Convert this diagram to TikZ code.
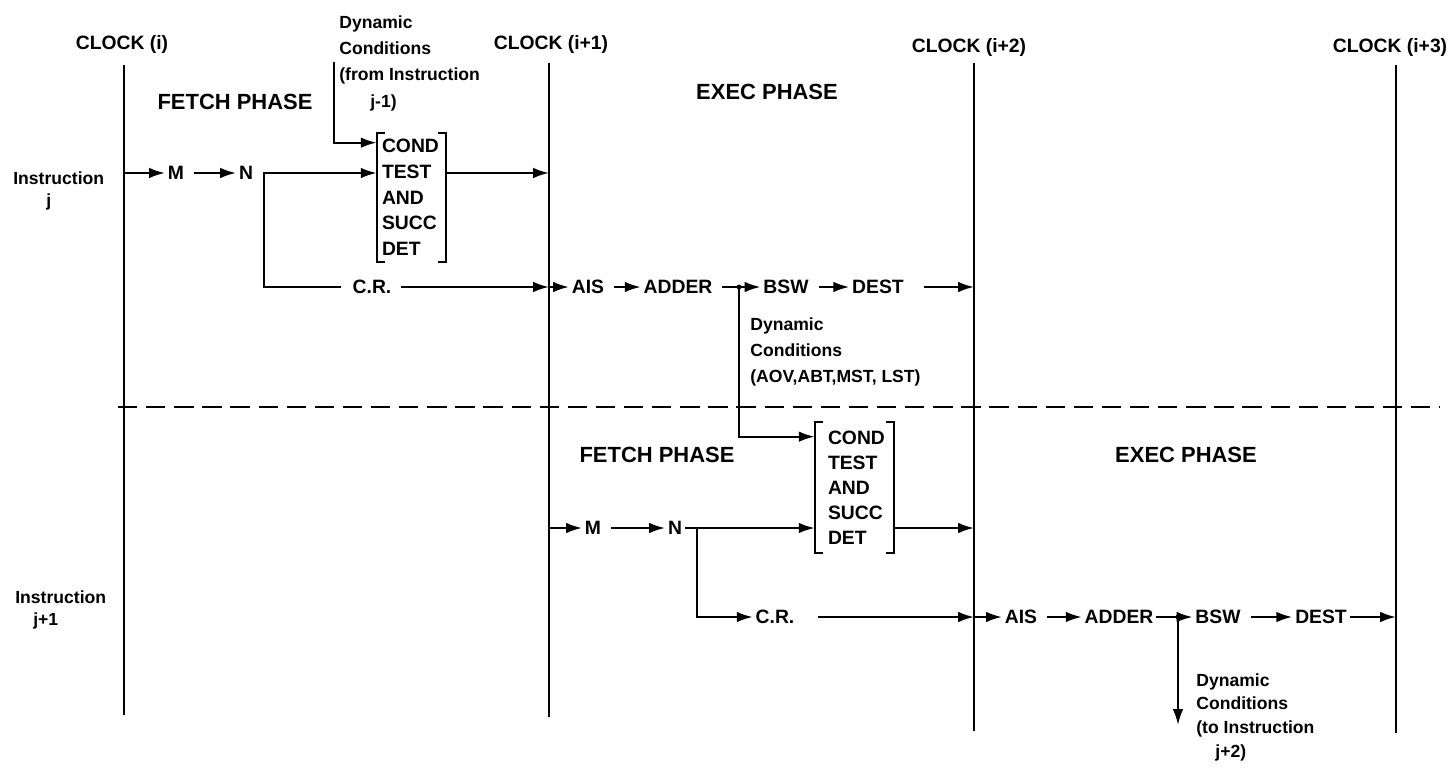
\documentclass[tikz,border=0pt]{standalone}
\usepackage{fontspec}
\setmainfont{Liberation Sans}
\usetikzlibrary{arrows.meta,calc}
\begin{document}
\begin{tikzpicture}[x=0.02cm,y=-0.02cm,
  lbl/.style={font=\fontsize{11}{12}\selectfont\bfseries, inner xsep=1.5pt, inner ysep=1pt},
  phase/.style={font=\fontsize{12.5}{14}\selectfont\bfseries, inner sep=0pt},
  multi/.style={font=\fontsize{10}{15}\selectfont\bfseries, align=left, inner sep=0pt, anchor=north west},
  clk/.style={line width=1.5pt},
  conn/.style={line width=1.2pt},
  arr/.style={conn, -{Latex[length=9pt,width=6pt]}},
  garr/.style={arr, shorten <=4pt},
  brk/.style={line width=1.2pt},
  sep/.style={line width=1.1pt, dash pattern=on 11pt off 5pt},
  cbone/.style={font=\fontsize{11}{14.6}\selectfont\bfseries, align=left, inner ysep=0pt,
     inner xsep=0.1cm, text width=1.18cm, minimum height=2.58cm},
  cbtwo/.style={font=\fontsize{11}{14.3}\selectfont\bfseries, align=left, inner ysep=0pt,
     inner xsep=0.26cm, text width=1.06cm, minimum height=2.62cm},
]
\useasboundingbox (0,0) rectangle (1452,767);

% clock labels and lines
\node[lbl] (clk0) at (122,45) {CLOCK (i)};
\node[lbl] (clk1) at (551,45) {CLOCK (i+1)};
\node[lbl] (clk2) at (969,48) {CLOCK (i+2)};
\node[lbl] (clk3) at (1390,48) {CLOCK (i+3)};
\coordinate (L0t) at (124,65);  \coordinate (L0b) at (124,715);
\coordinate (L1t) at (549,63);  \coordinate (L1b) at (549,717);
\coordinate (L2t) at (974,63);  \coordinate (L2b) at (974,731);
\coordinate (L3t) at (1396,65); \coordinate (L3b) at (1396,733);
\draw[clk] (L0t) -- (L0b);
\draw[clk] (L1t) -- (L1b);
\draw[clk] (L2t) -- (L2b);
\draw[clk] (L3t) -- (L3b);

% phases
\node[phase] (fp1) at (235,102) {FETCH PHASE};
\node[phase] (ep1) at (767,92) {EXEC PHASE};
\node[phase] (fp2) at (657,455) {FETCH PHASE};
\node[phase] (ep2) at (1186,455) {EXEC PHASE};

% instruction labels
\node[multi] (ij) at (13,171) {Instruction\\[-2pt]\hspace*{0.66cm}j};
\node[multi] (ij1) at (15,590) {Instruction\\[-2pt]\hspace*{0.36cm}j+1};

% ---------- instruction j : fetch ----------
\node[lbl] (M1) at (176,173) {M};
\node[lbl] (N1) at (246,173) {N};
\node[cbone] (cb1) at (411.5,197.5) {COND\\TEST\\AND\\SUCC\\DET};
\draw[brk] ([xshift=0.16cm]cb1.north west) -- (cb1.north west) -- (cb1.south west) -- ([xshift=0.16cm]cb1.south west);
\draw[brk] ([xshift=-0.16cm]cb1.north east) -- (cb1.north east) -- (cb1.south east) -- ([xshift=-0.16cm]cb1.south east);
\draw[arr] (L0t |- M1) -- (M1);
\draw[garr] (M1) -- (N1);
\draw[garr] (N1.east) -- (N1.east -| cb1.west);
\draw[arr] (cb1.east |- N1) -- (L1t |- N1);
\coordinate (b1) at (264,173);
\node[lbl] (CR1) at (372,287) {C.R.};
\draw[conn, shorten >=5pt] (b1) |- (CR1.west);
\draw[garr] (CR1.east) -- (L1t |- CR1);

\node[multi] (dc1) at (339,15) {Dynamic\\Conditions\\(from Instruction\\\hspace*{0.62cm}j-1)};
\coordinate (d1) at (334,62);
\draw[arr] (d1) |- ([yshift=-0.2cm]cb1.north west);

% ---------- instruction j : exec ----------
\node[lbl] (AIS1) at (588,287) {AIS};
\node[lbl] (ADD1) at (678,287) {ADDER};
\node[lbl] (BSW1) at (786,287) {BSW};
\node[lbl] (DST1) at (878,287) {DEST};
\draw[arr] (L1t |- AIS1) -- (AIS1);
\draw[garr] (AIS1) -- (ADD1);
\draw[garr] (ADD1) -- (BSW1);
\draw[garr] (BSW1) -- (DST1);
\draw[arr, shorten <=10pt] (DST1) -- (L2t |- DST1);
\coordinate (j1) at (739,287);
\fill (j1) circle (1.4pt);

\node[multi] (dc2) at (750,317) {Dynamic\\Conditions\\(AOV,ABT,MST, LST)};

% separator
\coordinate (dl) at (118,407);
\coordinate (dr) at (1440,407);
\draw[sep] (dl) -- (dr);

% ---------- instruction j+1 : fetch ----------
\node[lbl] (M2) at (593,528) {M};
\node[lbl] (N2) at (675,528) {N};
\node[cbtwo] (cb2) at (854.5,487.5) {COND\\TEST\\AND\\SUCC\\DET};
\draw[brk] ([xshift=0.16cm]cb2.north west) -- (cb2.north west) -- (cb2.south west) -- ([xshift=0.16cm]cb2.south west);
\draw[brk] ([xshift=-0.16cm]cb2.north east) -- (cb2.north east) -- (cb2.south east) -- ([xshift=-0.16cm]cb2.south east);
\draw[arr] (j1) |- ([yshift=-0.3cm]cb2.north west);
\draw[arr] (L1t |- M2) -- (M2);
\draw[garr] (M2) -- (N2);
\draw[arr] (N2.east) -- (N2.east -| cb2.west);
\draw[arr] (cb2.east |- N2) -- (L2t |- N2);
\coordinate (b2) at (697,528);
\node[lbl] (CR2) at (775,617) {C.R.};
\draw[arr] (b2) |- (CR2.west);
\draw[arr, shorten <=12pt] (CR2.east) -- (L2t |- CR2);

% ---------- instruction j+1 : exec ----------
\node[lbl] (AIS2) at (1021,617) {AIS};
\node[lbl] (ADD2) at (1119,617) {ADDER};
\node[lbl] (BSW2) at (1218,617) {BSW};
\node[lbl] (DST2) at (1321,617) {DEST};
\draw[arr] (L2t |- AIS2) -- (AIS2);
\draw[garr] (AIS2) -- (ADD2);
\draw[arr] (ADD2) -- (BSW2);
\draw[garr] (BSW2) -- (DST2);
\draw[arr] (DST2) -- (L3t |- DST2);
\coordinate (j2) at (1178,617);
\coordinate (e2) at (1178,725);
\fill (j2) circle (1.4pt);
\draw[arr] (j2) -- (e2);

\node[multi, font=\fontsize{10}{13.6}\selectfont\bfseries] (dc3) at (1196,673) {Dynamic\\Conditions\\(to Instruction\\\hspace*{0.38cm}j+2)};
\end{tikzpicture}
\end{document}
